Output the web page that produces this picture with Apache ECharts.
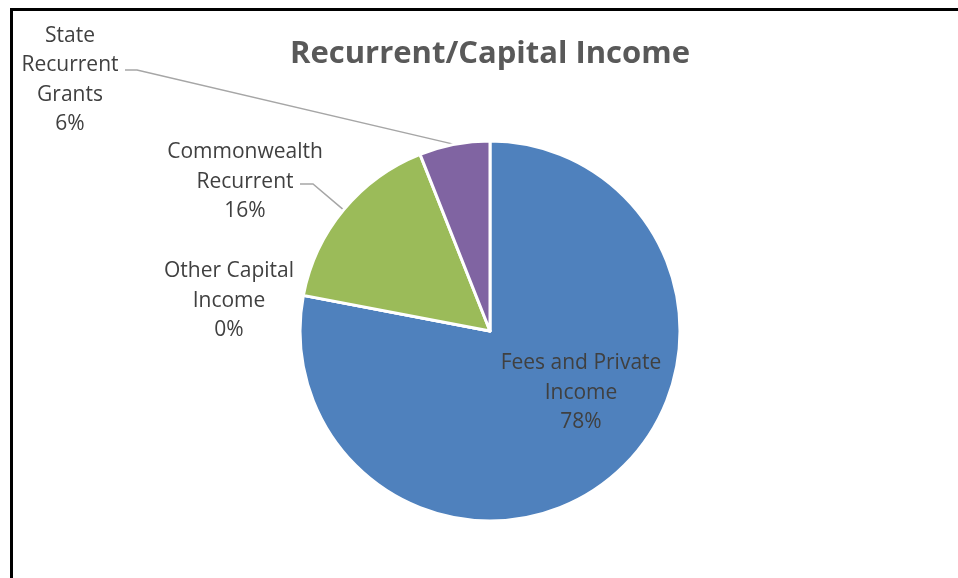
<!DOCTYPE html>
<html>
<head>
<meta charset="utf-8">
<title>Recurrent/Capital Income</title>
<script src="https://cdn.jsdelivr.net/npm/echarts@6/dist/echarts.min.js"></script>
<style>
  html, body { margin: 0; padding: 0; background: #fff; overflow: hidden; }
  #chart { position: absolute; left: 0; top: 0; width: 958px; height: 578px; }
  #frame {
    position: absolute; left: 10px; top: 8px; width: 1200px; height: 900px;
    border-top: 3px solid #000; border-left: 3px solid #000; pointer-events: none;
  }
</style>
</head>
<body>
<div id="chart"></div>
<div id="frame"></div>
<script>
// Income sources, in drawing order (clockwise from 12 o'clock)
const categories = ['Fees and Private\nIncome', 'Other Capital\nIncome', 'Commonwealth\nRecurrent', 'State\nRecurrent\nGrants'];
const shares = [78, 0, 16, 6];
const sliceColors = ['#4F81BD', '#C0504D', '#9BBB59', '#8064A2'];

// Where each label block sits (centre of the text block)
const labelSpots = [
  { x: 581, y: 393 },
  { x: 229, y: 301 },
  { x: 245, y: 182 },
  { x: 70, y: 80 }
];
// Horizontal stub end of each leader line (next to its label)
const stubEnds = [null, null, { x: 300, y: 184 }, { x: 125, y: 70 }];
const stubLen = [0, 0, 13, 12];

const chart = echarts.init(document.getElementById('chart'), null, { renderer: 'canvas' });

const data = categories.map((name, i) => ({
  name: name,
  value: shares[i],
  itemStyle: { color: sliceColors[i] },
  labelLine: { show: stubEnds[i] !== null }
}));

chart.setOption({
  animation: false,
  title: {
    text: 'Recurrent/Capital Income',
    left: 485,
    top: 34,
    textAlign: 'center',
    textStyle: {
      fontFamily: 'Open Sans',
      fontWeight: 'bold',
      fontSize: 31,
      color: '#595959'
    }
  },
  series: [{
    type: 'pie',
    center: [490, 331],
    radius: [0, 190],
    startAngle: 90,
    clockwise: true,
    avoidLabelOverlap: false,
    itemStyle: { borderColor: '#fff', borderWidth: 3 },
    label: {
      show: true,
      formatter: '{b}\n{d}%',
      fontFamily: 'Open Sans',
      fontSize: 21,
      lineHeight: 29.5,
      color: '#404040',
      align: 'center'
    },
    labelLine: {
      show: true,
      lineStyle: { color: '#A6A6A6', width: 1.5 }
    },
    labelLayout: function (params) {
      const i = params.dataIndex;
      const spot = labelSpots[i];
      const out = { x: spot.x, y: spot.y, align: 'center', verticalAlign: 'middle' };
      if (stubEnds[i] && params.labelLinePoints) {
        const start = params.labelLinePoints[0];
        const end = stubEnds[i];
        out.labelLinePoints = [
          [start[0], start[1]],
          [end.x + stubLen[i], end.y],
          [end.x, end.y]
        ];
      }
      return out;
    },
    data: data
  }]
});
</script>
</body>
</html>
